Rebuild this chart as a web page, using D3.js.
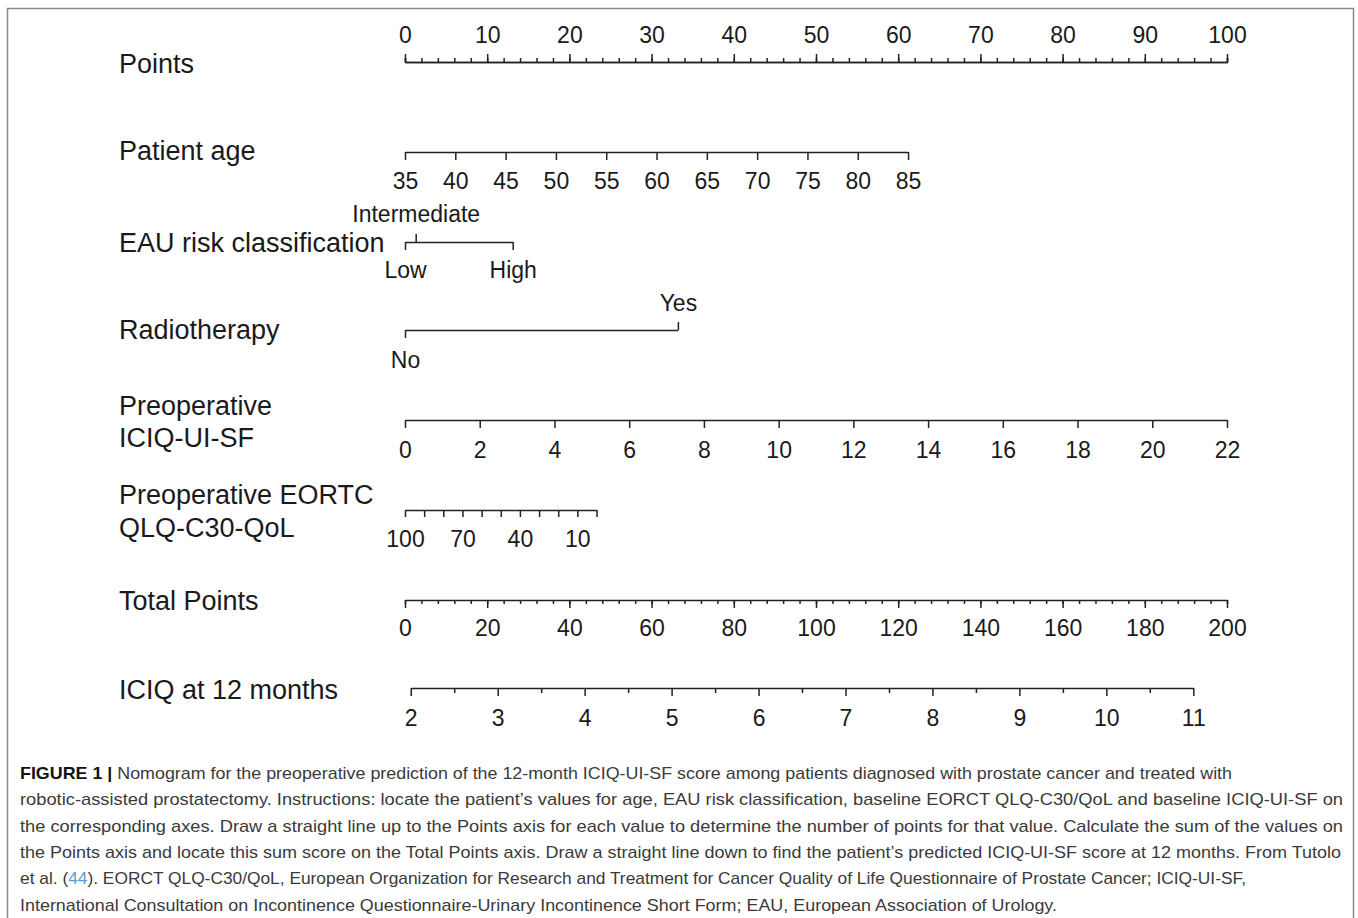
<!DOCTYPE html>
<html>
<head>
<meta charset="utf-8">
<script src="https://cdn.jsdelivr.net/npm/d3@7"></script>
<style>
  body { margin: 0; background: #fff; }
  svg { display: block; }
  .axis path, .axis line { stroke: #222; stroke-width: 1.5; }
  .axis text { font-family: "Liberation Sans", Arial, sans-serif; font-size: 23px; fill: #1a1a1a; }
  .varlabel { font-family: "Liberation Sans", Arial, sans-serif; font-size: 27px; fill: #1a1a1a; }
  .caption { font-family: "Liberation Sans", Arial, sans-serif; font-size: 17px; fill: #3a3a3a; }
</style>
</head>
<body>
<svg id="chart" width="1358" height="918"></svg>
<script>
//#region DATA /////////////////////////////////////////////////////////////////

// Points scale (0..100)
const pointsTicks = [0, 10, 20, 30, 40, 50, 60, 70, 80, 90, 100];

// Patient age: 35 -> 0 points, 85 -> ~61 points
const ageTicks = [35, 40, 45, 50, 55, 60, 65, 70, 75, 80, 85];
const ageRange = [35, 85];
const agePoints = [0, 61.2];

// EAU risk classification
const eauLevels = ["Low", "Intermediate", "High"];
const eauPoints = [0, 1.3, 13.1];

// Radiotherapy
const radioLevels = ["No", "Yes"];
const radioPoints = [0, 33.2];

// Preoperative ICIQ-UI-SF
const iciqPreTicks = [0, 2, 4, 6, 8, 10, 12, 14, 16, 18, 20, 22];
const iciqPrePoints = [0, 100];

// Preoperative EORTC QLQ-C30-QoL (reversed)
const eortcTicks = [100, 90, 80, 70, 60, 50, 40, 30, 20, 10, 0];
const eortcLabels = [100, 70, 40, 10];
const eortcPoints = [0, 23.3];

// Total points
const totalTicks = [0, 20, 40, 60, 80, 100, 120, 140, 160, 180, 200];

// ICIQ at 12 months, located on the total points scale
const iciq12Ticks = [2, 3, 4, 5, 6, 7, 8, 9, 10, 11];
const iciq12Total = [1.4, 191.8];

const varLabels = [
  ["Points"], ["Patient age"], ["EAU risk classification"], ["Radiotherapy"],
  ["Preoperative", "ICIQ-UI-SF"], ["Preoperative EORTC", "QLQ-C30-QoL"],
  ["Total Points"], ["ICIQ at 12 months"]
];

//#endregion

//#region LAYOUT ///////////////////////////////////////////////////////////////

const AXIS_LEFT = 405, AXIS_RIGHT = 1227;
const LABEL_X = 119;
// y of each axis line, one per row
const ROW_Y = [62, 152, 242, 330, 420, 510, 600, 688];
// y (centre) of the row names, two-line names get two values
const LABEL_Y = [[63], [150], [242], [329], [405, 437], [494, 527], [600], [689]];
const BELOW = 37, ABOVE = -19;   // tick label baseline offsets

const svg = d3.select("#chart");

const pointsX = d3.scaleLinear().domain([0, 100]).range([AXIS_LEFT, AXIS_RIGHT]);
const totalX = d3.scaleLinear().domain([0, 200]).range([AXIS_LEFT, AXIS_RIGHT]);

//#endregion

/** put an axis on the page at height y, labels moved to labelY */
function drawAxis(y, axis, labelY, keepDomain = true)
{
  let g = svg.append("g")
      .attr("class", "axis")
      .attr("transform", "translate(0," + y + ")")
      .call(axis);
  g.attr("font-size", null).attr("font-family", null);
  g.selectAll("text").attr("y", labelY).attr("dy", null);
  if (!keepDomain) g.select(".domain").remove();
  return g;
}

// frame
svg.append("rect")
    .attr("x", 7.5).attr("y", 8.5)
    .attr("width", 1346).attr("height", 940)
    .attr("fill", "none").attr("stroke", "#8a8a8a").attr("stroke-width", 1.5);

// row names
varLabels.forEach((lines, i) => {
  lines.forEach((t, j) => {
    svg.append("text")
        .attr("class", "varlabel")
        .attr("x", LABEL_X)
        .attr("y", LABEL_Y[i][j] + 9.5)
        .text(t);
  });
});

// Points
drawAxis(ROW_Y[0], d3.axisTop(pointsX).tickValues(d3.range(0, 101, 2)).tickSize(4).tickFormat(""), 0);
drawAxis(ROW_Y[0], d3.axisTop(pointsX).tickValues(pointsTicks).tickSize(8).tickSizeOuter(0), ABOVE);

// Patient age
let ageScale = d3.scaleLinear().domain(ageRange).range(agePoints.map(pointsX));
drawAxis(ROW_Y[1], d3.axisBottom(ageScale).tickValues(ageTicks).tickSize(8).tickSizeOuter(0), BELOW);

// EAU risk classification
let eauScale = d3.scaleOrdinal(eauLevels, eauPoints.map(pointsX));
drawAxis(ROW_Y[2], d3.axisBottom(eauScale).tickValues(["Low", "High"]).tickSize(8).tickSizeOuter(0), BELOW - 1);
drawAxis(ROW_Y[2], d3.axisTop(eauScale).tickValues(["Intermediate"]).tickSize(8), ABOVE - 1, false);

// Radiotherapy
let radioScale = d3.scaleOrdinal(radioLevels, radioPoints.map(pointsX));
drawAxis(ROW_Y[3], d3.axisBottom(radioScale).tickValues(["No"]).tickSize(8).tickSizeOuter(0), BELOW + 1);
drawAxis(ROW_Y[3], d3.axisTop(radioScale).tickValues(["Yes"]).tickSize(8), ABOVE, false);

// Preoperative ICIQ-UI-SF
let iciqPreScale = d3.scaleLinear().domain([0, 22]).range(iciqPrePoints.map(pointsX));
drawAxis(ROW_Y[4], d3.axisBottom(iciqPreScale).tickValues(iciqPreTicks).tickSize(8).tickSizeOuter(0), BELOW + 1);

// Preoperative EORTC QLQ-C30-QoL
let eortcScale = d3.scaleLinear().domain([100, 0]).range(eortcPoints.map(pointsX));
drawAxis(ROW_Y[5], d3.axisBottom(eortcScale).tickValues(eortcTicks).tickSize(7).tickSizeOuter(0)
    .tickFormat(d => eortcLabels.includes(d) ? d : ""), BELOW);

// Total Points
drawAxis(ROW_Y[6], d3.axisBottom(totalX).tickValues(d3.range(0, 201, 4)).tickSize(4).tickFormat(""), 0, false);
drawAxis(ROW_Y[6], d3.axisBottom(totalX).tickValues(totalTicks).tickSize(8).tickSizeOuter(0), BELOW - 1);

// ICIQ at 12 months
let iciq12Scale = d3.scaleLinear().domain([2, 11]).range(iciq12Total.map(totalX));
drawAxis(ROW_Y[7], d3.axisBottom(iciq12Scale).tickValues(d3.range(2.5, 11, 1)).tickSize(5).tickFormat(""), 0, false);
drawAxis(ROW_Y[7], d3.axisBottom(iciq12Scale).tickValues(iciq12Ticks).tickSize(8).tickSizeOuter(0), BELOW + 1);

//#region CAPTION //////////////////////////////////////////////////////////////

// each line: list of [text, style], and its right edge in the figure
const captionLines = [
  [[["FIGURE 1 | ", "b"], ["Nomogram for the preoperative prediction of the 12-month ICIQ-UI-SF score among patients diagnosed with prostate cancer and treated with", ""]], 1232],
  [[["robotic-assisted prostatectomy. Instructions: locate the patient\u2019s values for age, EAU risk classification, baseline EORCT QLQ-C30/QoL and baseline ICIQ-UI-SF on", ""]], 1343],
  [[["the corresponding axes. Draw a straight line up to the Points axis for each value to determine the number of points for that value. Calculate the sum of the values on", ""]], 1343],
  [[["the Points axis and locate this sum score on the Total Points axis. Draw a straight line down to find the patient\u2019s predicted ICIQ-UI-SF score at 12 months. From Tutolo", ""]], 1341],
  [[["et al. (", ""], ["44", "link"], ["). EORCT QLQ-C30/QoL, European Organization for Research and Treatment for Cancer Quality of Life Questionnaire of Prostate Cancer; ICIQ-UI-SF,", ""]], 1246],
  [[["International Consultation on Incontinence Questionnaire-Urinary Incontinence Short Form; EAU, European Association of Urology.", ""]], 1057]
];
const CAPTION_X = 20, CAPTION_Y = 779, CAPTION_STEP = 26.3;

captionLines.forEach(([parts, right], i) => {
  let t = svg.append("text")
      .attr("class", "caption")
      .attr("x", CAPTION_X)
      .attr("y", CAPTION_Y + i * CAPTION_STEP)
      .attr("textLength", right - CAPTION_X)
      .attr("lengthAdjust", "spacingAndGlyphs");
  for (let [s, style] of parts)
  {
    let sp = t.append("tspan").text(s);
    if (style === "b") sp.attr("font-weight", "bold").attr("fill", "#111");
    if (style === "link") sp.attr("fill", "#5a9bd4");
  }
});

//#endregion
</script>
</body>
</html>
